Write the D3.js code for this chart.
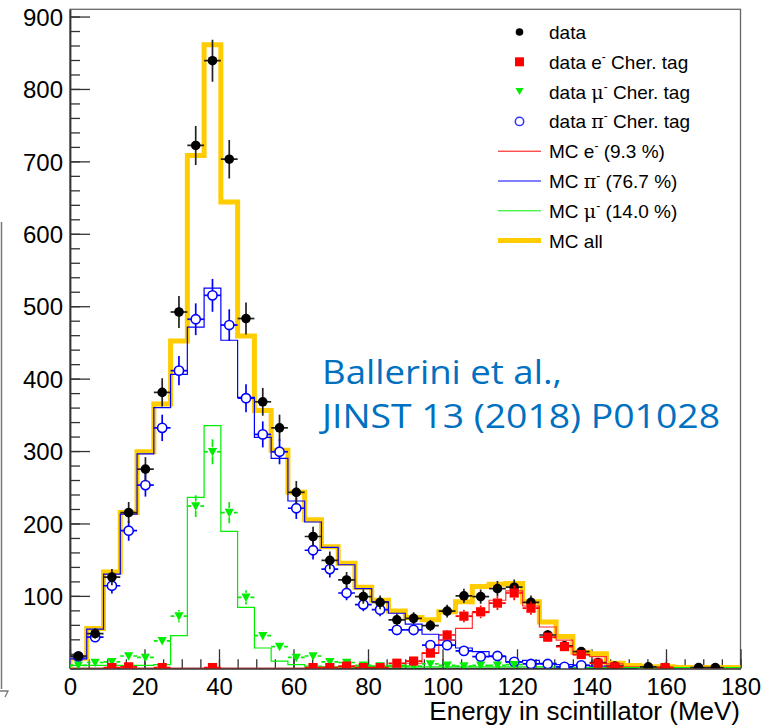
<!DOCTYPE html>
<html>
<head>
<meta charset="utf-8">
<script src="https://cdn.jsdelivr.net/npm/d3@7"></script>
<style>
  body { margin: 0; background: #fff; }
</style>
</head>
<body>
<div id="chart"></div>
<script>
// 40 bins of 4.5 MeV from 0 to 180
var binWidth = 4.5;
var xTicks = [0, 20, 40, 60, 80, 100, 120, 140, 160, 180];
var yTicks = [100, 200, 300, 400, 500, 600, 700, 800, 900];

// data points (null = not drawn)
var dataAll = [17, 48, 126, 215, 275, 381, 492, 722, 839, 703,
  483, 368, 332, 243, 182, 149, 122, 99, 91, 67,
  69, 59, 79, 100, 99, 110, 112, 91, 46, 31,
  23, 8, 3, null, 2, 1, null, 1, 1, null];
var dataE = [null, null, 1, 2, null, 1, null, null, 1, null,
  null, null, null, null, 1, 1, 3, 1, 1, 7,
  10, 21, 46, 72, 78, 90, 104, 83, 43, 30,
  19, 7, 2, null, null, 1, null, null, null, null];
var dataMu = [4, 8, 9, 17, 15, 38, 72, 224, 299, 215,
  98, 45, 30, 15, 17, 9, 8, 4, 3, 4,
  3, 6, 4, 3, 4, 4, 5, null, null, null,
  null, null, null, null, null, null, null, null, null, null];
var dataPi = [16, 43, 114, 190, 253, 332, 411, 482, 515, 474,
  373, 323, 299, 221, 163, 137, 104, 88, 81, 53,
  53, 32, 32, 24, 16, 17, 9, 6, 6, 2,
  4, null, null, null, null, null, null, null, null, null];

// MC histograms
var mcE = [0, 0, 0, 0, 0, 0, 0, 0, 0, 0,
  0, 0, 0, 0, 0, 0, 1, 1, 2, 3,
  7, 21, 39, 55, 77, 94, 107, 86, 57, 39,
  19, 16, 6, 2, 1, 1, 1, 0, 0, 0];
var mcPi = [13, 54, 130, 213, 296, 360, 406, 471, 525, 453,
  374, 319, 290, 231, 202, 167, 143, 110, 92, 76,
  61, 47, 39, 28, 23, 16, 9, 11, 7, 5,
  4, 3, 2, 1, 1, 1, 0, 0, 0, 0];
var mcMu = [4, 4, 4, 4, 4, 5, 45, 236, 335, 189,
  84, 28, 10, 5, 3, 2, 2, 2, 2, 2,
  2, 2, 2, 2, 2, 2, 2, 2, 2, 2,
  1, 1, 1, 1, 1, 1, 1, 1, 1, 1];
var mcAll = [14, 55, 133, 215, 299, 365, 452, 708, 861, 644,
  459, 356, 301, 243, 205, 168, 145, 112, 94, 79,
  70, 67, 78, 92, 113, 116, 117, 92, 64, 44,
  22, 20, 7, 4, 2, 2, 1, 1, 1, 1];

var legendItems = [
  {type: "dot", label: "data"},
  {type: "square", label: "data e", sup: "-", rest: " Cher. tag"},
  {type: "tri", label: "data ", greek: "\u03bc", sup: "-", rest: " Cher. tag"},
  {type: "circle", label: "data ", greek: "\u03c0", sup: "-", rest: " Cher. tag"},
  {type: "line", color: "#ff0000", w: 1, label: "MC e", sup: "-", rest: " (9.3 %)"},
  {type: "line", color: "#0000ff", w: 1, label: "MC ", greek: "\u03c0", sup: "-", rest: " (76.7 %)"},
  {type: "line", color: "#00ee00", w: 1, label: "MC ", greek: "\u03bc", sup: "-", rest: " (14.0 %)"},
  {type: "line", color: "#ffcc00", w: 5, label: "MC all"}
];

var font = "'Liberation Sans', Arial, Helvetica, sans-serif";

var svg = d3.select("#chart").append("svg")
  .attr("width", 770)
  .attr("height", 726);

var x = d3.scaleLinear().domain([0, 180]).range([70, 740.5]);
var y = d3.scaleLinear().domain([0, 910]).range([668.3, 9.3]);

svg.append("clipPath").attr("id", "plotclip")
  .append("rect")
  .attr("x", x(0)).attr("y", y(910))
  .attr("width", x(180) - x(0)).attr("height", y(0) - y(910));

// left edge artifact from the cropped figure
svg.append("line")
  .attr("x1", 1.5).attr("x2", 1.5).attr("y1", 222).attr("y2", 689)
  .style("stroke", "#777").style("stroke-width", 1.5);
svg.append("path")
  .attr("d", "M0,691 L8,691 L5,697")
  .style("fill", "none").style("stroke", "#777").style("stroke-width", 1.3);

// frame
svg.append("rect")
  .attr("x", x(0)).attr("y", y(910))
  .attr("width", x(180) - x(0)).attr("height", y(0) - y(910))
  .style("fill", "none").style("stroke", "#666").style("stroke-width", 1.3);

// minor ticks
svg.append("g")
  .attr("transform", "translate(0," + y(0) + ")")
  .call(d3.axisBottom(x).tickValues(d3.range(0, 181, 5)).tickSize(-9).tickSizeOuter(0).tickFormat(""))
  .call(function (g) { g.select(".domain").remove(); });
svg.append("g")
  .attr("transform", "translate(" + x(0) + ",0)")
  .call(d3.axisLeft(y).tickValues(d3.range(0, 901, 20)).tickSize(-10).tickSizeOuter(0).tickFormat(""))
  .call(function (g) { g.select(".domain").remove(); });

// major ticks + labels
var xAxis = svg.append("g")
  .attr("transform", "translate(0," + y(0) + ")")
  .call(d3.axisBottom(x).tickValues(xTicks).tickSize(-19).tickSizeOuter(0).tickPadding(10));
var yAxis = svg.append("g")
  .attr("transform", "translate(" + x(0) + ",0)")
  .call(d3.axisLeft(y).tickValues(yTicks).tickSize(-20).tickSizeOuter(0).tickPadding(7));

svg.selectAll(".tick line").style("stroke", "#333").style("stroke-width", 1.3);
[xAxis, yAxis].forEach(function (a) {
  a.select(".domain").style("stroke", "#333").style("stroke-width", 1.8);
  a.selectAll("text")
    .attr("font-family", font)
    .attr("font-size", 24)
    .style("fill", "#000");
});
yAxis.selectAll("text").attr("dy", "0.36em");

svg.append("text")
  .attr("x", 740)
  .attr("y", 719.5)
  .attr("text-anchor", "end")
  .attr("font-family", font)
  .attr("font-size", 26)
  .text("Energy in scintillator (MeV)");

var plot = svg.append("g").attr("clip-path", "url(#plotclip)");

function histPoints(vals) {
  var pts = [[0, 0]];
  vals.forEach(function (v, i) {
    pts.push([i * binWidth, v]);
    pts.push([(i + 1) * binWidth, v]);
  });
  pts.push([180, 0]);
  return pts;
}

var line = d3.line()
  .x(function (d) { return x(d[0]); })
  .y(function (d) { return y(d[1]); });

function drawHist(vals, color, w) {
  plot.append("path")
    .attr("d", line(histPoints(vals)))
    .style("fill", "none")
    .style("stroke", color)
    .style("stroke-width", w)
    .style("stroke-linejoin", "miter");
}

drawHist(mcAll, "#ffcc00", 5);
drawHist(mcPi, "#0000ff", 1.2);
drawHist(mcE, "#ff3030", 1.2);
drawHist(mcMu, "#00ee00", 1.2);

function drawMarker(g, type, cx, cy) {
  if (type === "dot") {
    g.append("circle").attr("cx", cx).attr("cy", cy).attr("r", 4.8).style("fill", "#000");
  } else if (type === "circle") {
    g.append("circle").attr("cx", cx).attr("cy", cy).attr("r", 4.6)
      .style("fill", "#fff").style("stroke", "#0000ff").style("stroke-width", 1.6);
  } else if (type === "square") {
    g.append("rect").attr("x", cx - 4.6).attr("y", cy - 4.6).attr("width", 9.2).attr("height", 9.2)
      .style("fill", "#ff0000");
  } else if (type === "tri") {
    g.append("path")
      .attr("d", "M" + (cx - 4.6) + "," + (cy - 3.8) + "L" + (cx + 4.6) + "," + (cy - 3.8) + "L" + cx + "," + (cy + 4.8) + "Z")
      .style("fill", "#00ee00");
  }
}

function drawPoints(vals, type, color, gap) {
  var g = plot.append("g");
  vals.forEach(function (v, i) {
    if (v === null) return;
    var c = (i + 0.5) * binWidth;
    var px = x(c), py = y(v);
    var err = Math.sqrt(v);
    var top = y(v + err), bot = y(Math.max(v - err, 0));
    var xl = x(c - binWidth / 2), xr = x(c + binWidth / 2);
    var segs = [];
    if (gap > 0) {
      if (py - top > gap) segs.push([px, top, px, py - gap]);
      if (bot - py > gap) segs.push([px, py + gap, px, bot]);
      segs.push([xl, py, px - gap, py]);
      segs.push([px + gap, py, xr, py]);
    } else {
      segs.push([px, top, px, bot]);
      segs.push([xl, py, xr, py]);
    }
    segs.forEach(function (s) {
      g.append("line")
        .attr("x1", s[0]).attr("y1", s[1]).attr("x2", s[2]).attr("y2", s[3])
        .style("stroke", color).style("stroke-width", 1.7);
    });
    drawMarker(g, type, px, py);
  });
}

drawPoints(dataPi, "circle", "#0000ff", 4.6);
drawPoints(dataAll, "dot", "#222", 0);
drawPoints(dataMu, "tri", "#00ee00", 4.6);
drawPoints(dataE, "square", "#ff0000", 4.6);

// legend
var legend = svg.append("g");
legendItems.forEach(function (d, i) {
  var cy = 32 + i * 29.8;
  if (d.type === "line") {
    legend.append("line")
      .attr("x1", 498).attr("x2", 541).attr("y1", cy).attr("y2", cy)
      .style("stroke", d.color).style("stroke-width", d.w);
  } else {
    var m = legend.append("g");
    if (d.type === "dot") {
      m.append("circle").attr("cx", 519.5).attr("cy", cy).attr("r", 3.8).style("fill", "#000");
    } else if (d.type === "circle") {
      m.append("circle").attr("cx", 519.5).attr("cy", cy).attr("r", 4.2)
        .style("fill", "none").style("stroke", "#3030ff").style("stroke-width", 1.5);
    } else if (d.type === "square") {
      m.append("rect").attr("x", 515).attr("y", cy - 4.5).attr("width", 9).attr("height", 9).style("fill", "#ff0000");
    } else if (d.type === "tri") {
      m.append("path").attr("d", "M515.5," + (cy - 3.5) + "L523.5," + (cy - 3.5) + "L519.5," + (cy + 3.5) + "Z")
        .style("fill", "#00ee00");
    }
  }
  var t = legend.append("text")
    .attr("x", 549).attr("y", cy + 7)
    .attr("font-family", font).attr("font-size", 19);
  t.append("tspan").text(d.label);
  if (d.greek) {
    t.append("tspan").attr("font-family", "'DejaVu Serif', 'Liberation Serif', serif").text(d.greek);
  }
  if (d.sup) {
    t.append("tspan").attr("dy", -8).attr("font-size", 12).text(d.sup);
    t.append("tspan").attr("dy", 8).text(d.rest);
  }
});

// citation
var cite = svg.append("g")
  .attr("font-family", "'Open Sans', 'Noto Sans', sans-serif")
  .attr("font-size", 32)
  .style("fill", "#0070c0");
cite.append("text").attr("x", 322).attr("y", 384)
  .attr("textLength", 240).attr("lengthAdjust", "spacingAndGlyphs")
  .text("Ballerini et al.,");
cite.append("text").attr("x", 322).attr("y", 428)
  .attr("textLength", 398).attr("lengthAdjust", "spacingAndGlyphs")
  .text("JINST 13 (2018) P01028");
</script>
</body>
</html>
